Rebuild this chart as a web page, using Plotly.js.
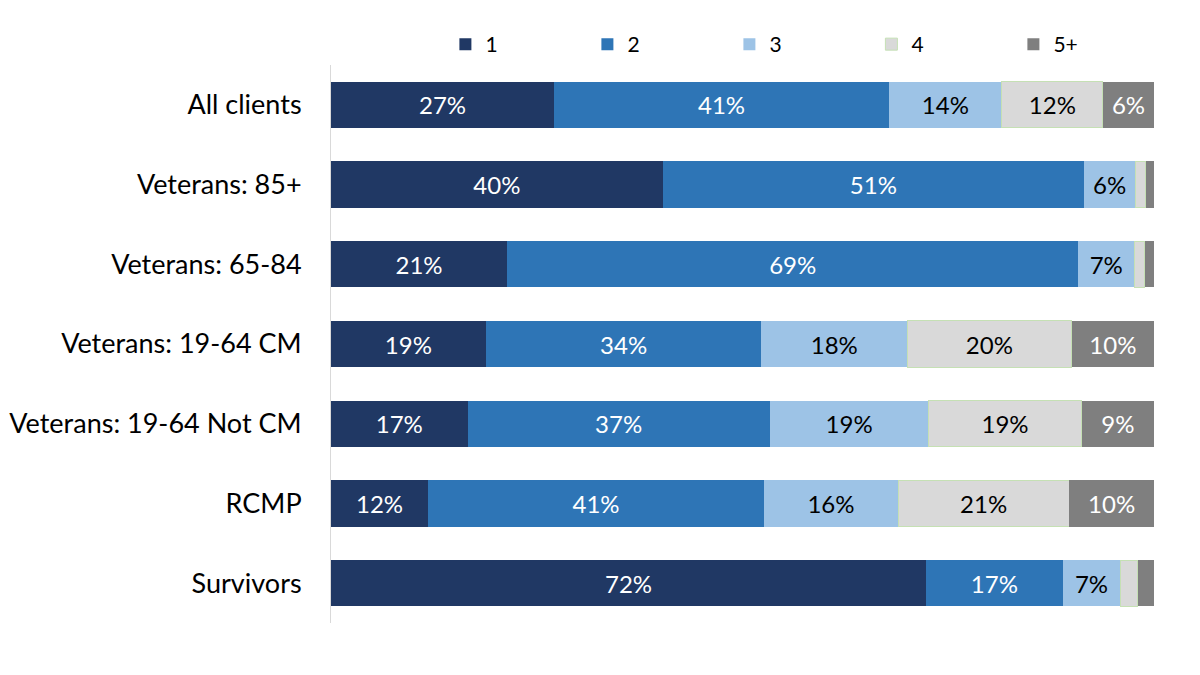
<!DOCTYPE html>
<html>
<head>
<meta charset="utf-8">
<script src="https://cdn.plot.ly/plotly-3.0.1.min.js"></script>
<style>
  html, body { margin: 0; padding: 0; background: #fff; }
  #plot { width: 1200px; height: 675px; }
</style>
</head>
<body>
<div id="plot"></div>
<script>
const groups = [
  "All clients",
  "Veterans: 85+",
  "Veterans: 65-84",
  "Veterans: 19-64 CM",
  "Veterans: 19-64 Not CM",
  "RCMP",
  "Survivors"
];

// share of clients (%) by number of ...
const one = [27.1, 40.3, 21.4, 18.8, 16.6, 11.8, 72.3];
const two = [40.7, 51.2, 69.4, 33.5, 36.7, 40.8, 16.6];
const three = [13.7, 6.2, 6.8, 17.7, 19.3, 16.3, 7.0];
const four = [12.3, 1.3, 1.3, 20.0, 18.6, 20.8, 2.1];
const fivePlus = [6.2, 1.0, 1.1, 10.0, 8.8, 10.3, 2.0];

const seriesNames = ["1", "2", "3", "4", "5+"];

const series = [
  { vals: one, color: "#203864", textColor: "#ffffff" },
  { vals: two, color: "#2e75b6", textColor: "#ffffff" },
  { vals: three, color: "#9dc3e6", textColor: "#000000" },
  { vals: four, color: "#d9d9d9", textColor: "#000000", border: "#c5e0b4" },
  { vals: fivePlus, color: "#7f7f7f", textColor: "#ffffff" }
];

const font = "Lato, 'Open Sans', sans-serif";

const traces = series.map((s, i) => ({
  type: "bar",
  orientation: "h",
  name: seriesNames[i],
  y: groups,
  x: s.vals,
  text: s.vals.map(v => (v >= 5 ? Math.round(v) + "%" : "")),
  textposition: "inside",
  insidetextanchor: "middle",
  textangle: 0,
  textfont: { family: font, size: 24, color: s.textColor },
  constraintext: "none",
  marker: {
    color: s.color,
    line: { color: s.border || s.color, width: s.border ? 1 : 0 }
  },
  hoverinfo: "skip"
}));

const layout = {
  width: 1200,
  height: 675,
  barmode: "stack",
  bargap: 0.42,
  margin: { l: 331, r: 46, t: 65, b: 52 },
  paper_bgcolor: "#ffffff",
  plot_bgcolor: "#ffffff",
  font: { family: font, size: 20, color: "#000000" },
  showlegend: true,
  legend: {
    orientation: "h",
    x: 0.139,
    xanchor: "left",
    y: 1.0,
    yanchor: "bottom",
    entrywidth: 97,
    entrywidthmode: "pixels",
    font: { family: font, size: 21, color: "#000000" },
    traceorder: "normal",
    itemclick: false
  },
  xaxis: {
    range: [0, 100],
    showgrid: false,
    zeroline: false,
    showticklabels: false,
    ticks: "",
    showline: false,
    fixedrange: true
  },
  yaxis: {
    autorange: "reversed",
    showgrid: false,
    zeroline: false,
    showline: true,
    linecolor: "#d9d9d9",
    linewidth: 1,
    ticks: "",
    ticklabelstandoff: 23,
    tickfont: { family: font, size: 27, color: "#000000" },
    fixedrange: true
  }
};

Plotly.newPlot("plot", traces, layout, { displayModeBar: false, staticPlot: true });
</script>
</body>
</html>
